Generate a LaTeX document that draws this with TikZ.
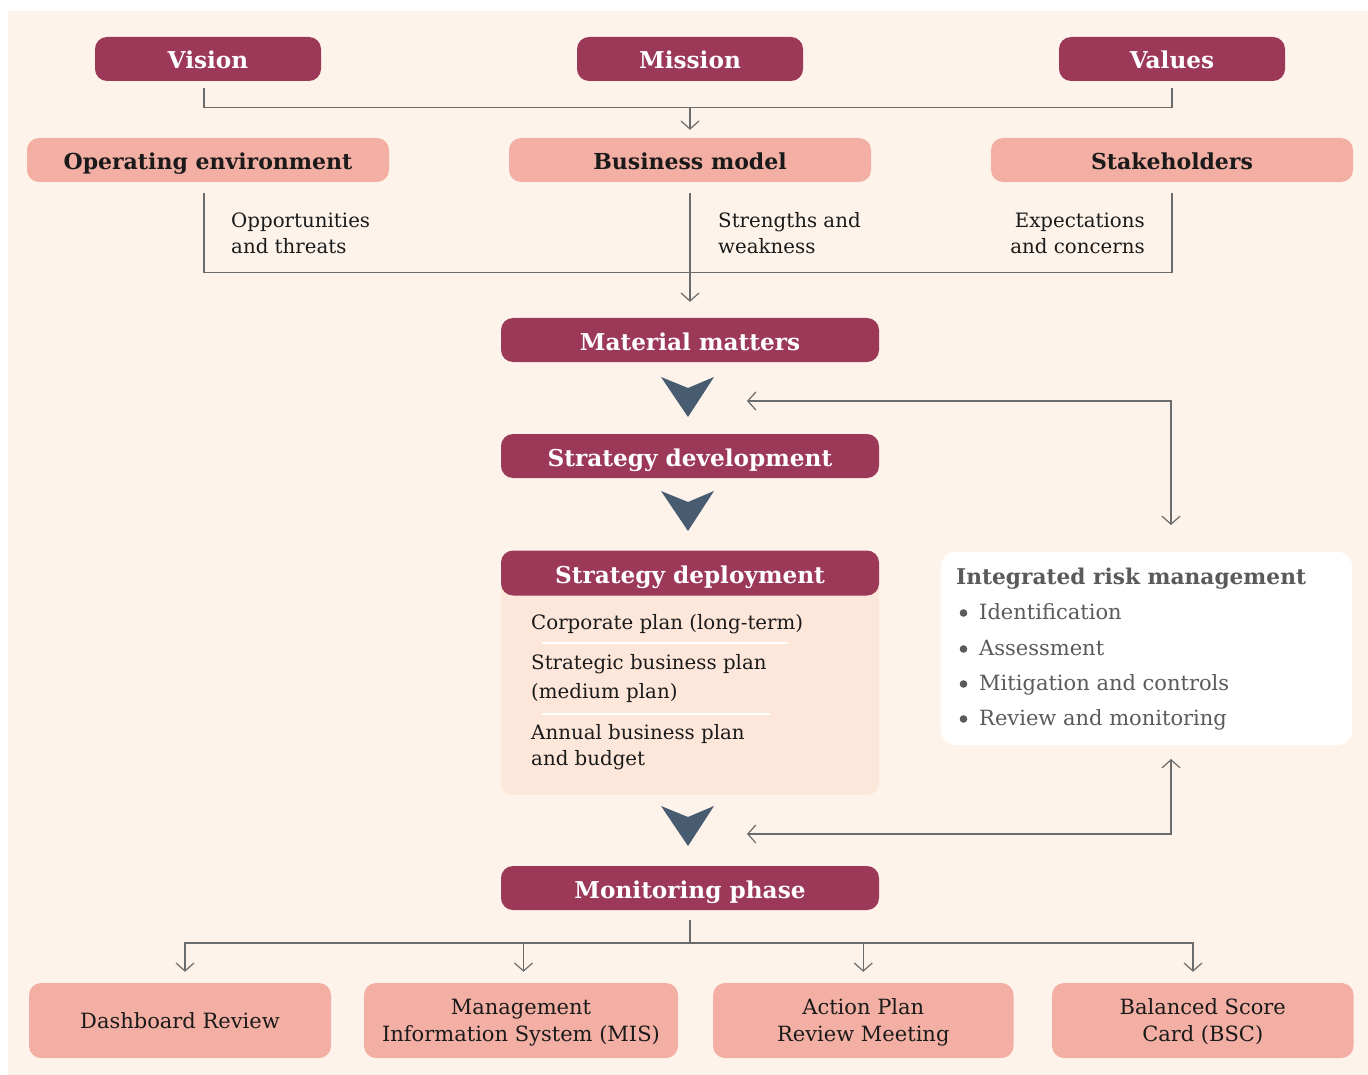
\documentclass[tikz,border=0pt]{standalone}
\usepackage{fontspec}
\setmainfont{DejaVu Serif}
\usetikzlibrary{arrows.meta}
\definecolor{plum}{HTML}{9C3858}
\definecolor{salmon}{HTML}{F3AFA3}
\definecolor{cream}{HTML}{FDF3EB}
\definecolor{peach}{HTML}{FDE6DA}
\definecolor{slate}{HTML}{475B71}
\definecolor{wire}{HTML}{6B6B6B}
\definecolor{ink}{HTML}{1A1A1A}
\definecolor{riskgray}{HTML}{5A5A5A}
\tikzset{
  headbox/.style={fill=plum, text=white, rounded corners=12pt, inner sep=0pt,
    text height=20pt, text depth=0pt, font=\bfseries\fontsize{23.2}{26}\selectfont},
  topbox/.style={headbox, minimum width=226pt, minimum height=44pt},
  stagebox/.style={headbox, minimum width=378pt, minimum height=44pt},
  inputbox/.style={fill=salmon, text=ink, rounded corners=12pt, inner sep=0pt,
    minimum width=362pt, minimum height=44pt, text height=20pt, text depth=0pt,
    font=\bfseries\fontsize{22}{26}\selectfont},
  toolbox/.style={fill=salmon, text=ink, rounded corners=12pt, inner sep=0pt,
    minimum height=75pt, align=center, text depth=0pt, font=\fontsize{21}{27}\selectfont},
  body/.style={text=ink, align=left, inner sep=0pt, font=\fontsize{19.8}{25.5}\selectfont},
  risktext/.style={text=riskgray, anchor=base west, inner sep=0pt, font=\fontsize{21}{24}\selectfont},
  wireline/.style={draw=wire, line width=1.2pt},
  wirearrow/.style={wireline, -{Straight Barb[length=8pt, width=18pt, line width=1.2pt]}},
  wireboth/.style={wireline, {Straight Barb[length=8pt, width=18pt, line width=1.2pt]}-{Straight Barb[length=8pt, width=18pt, line width=1.2pt]}},
  chevron/.pic={\fill[slate] (-27,-20) -- (0,-9) -- (26,-20) -- (0,20) -- cycle;}
}
\begin{document}
\begin{tikzpicture}[x=1pt, y=-1pt]
% page and backdrop
\useasboundingbox (0,0) rectangle (1368,1075);
\fill[white] (0,0) rectangle (1368,1075);
\fill[cream] (8,11) rectangle (1368,1075);

% guiding statements
\node[topbox] (vision)  at (208,59)  {Vision};
\node[topbox] (mission) at (690,59)  {Mission};
\node[topbox] (values)  at (1172,59) {Values};

% inputs
\node[inputbox] (openv)  at (208,160)  {Operating environment};
\node[inputbox] (bmodel) at (690,160)  {Business model};
\node[inputbox] (stake)  at (1172,160) {Stakeholders};

\coordinate (topjoin) at (690,107);
\draw[wireline] ([xshift=-4pt,yshift=-7pt]vision.south) -- ++(0,19) -| ([yshift=-7pt]values.south);
\draw[wirearrow] (topjoin) -- ([yshift=8pt]bmodel.north);

% inputs feeding material matters
\node[stagebox] (material) at (690,340) {Material matters};
\draw[wireline] ([xshift=-4pt,yshift=-11pt]openv.south) -- ++(0,79) -| ([yshift=-11pt]stake.south);
\draw[wirearrow] ([yshift=-11pt]bmodel.south) -- ([yshift=16pt]material.north);

% the base of a two-line text is its last line
\node[body, anchor=base west] (optext) at (231,253.5) {Opportunities\\and threats};
\node[body, anchor=base west] (swtext) at (718,253.5) {Strengths and\\weakness};
\node[body, anchor=base east, align=right] (ectext) at (1145,253.5) {Expectations\\and concerns};

% strategy stages
\node[stagebox] (stratdev) at (690,456) {Strategy development};
\pic at (688,397) {chevron};
\pic at (688,511) {chevron};

\fill[peach, rounded corners=12pt] (501,551) rectangle (879,795);
\node[stagebox, minimum height=45pt] (deploy) at (690,573) {Strategy deployment};
\node[body, anchor=base west] (corp) at (531,629) {Corporate plan (long-term)};
\draw[white, line width=2pt] (542,643) -- (788,643);
\node[body, anchor=base west, font=\fontsize{19.8}{29}\selectfont] (sbp) at (531,698) {Strategic business plan\\(medium plan)};
\draw[white, line width=2pt] (542,714) -- (770,714);
\node[body, anchor=base west, font=\fontsize{19.8}{26}\selectfont] (abp) at (531,765) {Annual business plan\\and budget};

\pic at (688,826) {chevron};
\node[stagebox] (monitor) at (690,888) {Monitoring phase};

% integrated risk management
\fill[white, rounded corners=14pt] (941,552) rectangle (1352,745);
\node[risktext, font=\bfseries\fontsize{21.7}{24}\selectfont] (risk) at (956,584) {Integrated risk management};
\foreach \y/\t [count=\i] in {619/Identification, 655/Assessment, 690/Mitigation and controls, 725/Review and monitoring}{
  \fill[riskgray] (963.5,\y-6) circle (3.8pt);
  \node[risktext] (risk\i) at (979,\y) {\t};
}

% feedback loops with risk management
\coordinate (fbA) at (747,401);
\coordinate (fbB) at (1171,525);
\coordinate (fbC) at (747,834);
\coordinate (fbD) at (1171,759);
\draw[wireboth] (fbA) -| (fbB);
\draw[wireboth] (fbC) -| (fbD);

% monitoring tools
\node[toolbox, minimum width=302pt]   (dash)   at (180,1020.5)   {Dashboard Review};
\node[toolbox, minimum width=314pt]   (mis)    at (521,1020.5)   {Management\\Information System (MIS)};
\node[toolbox, minimum width=300.5pt] (action) at (863.25,1020.5) {Action Plan\\Review Meeting};
\node[toolbox, minimum width=301.5pt] (bsc)    at (1202.75,1020.5) {Balanced Score\\Card (BSC)};

\coordinate (hb) at (690,943);
\draw[wireline] ([yshift=-10pt]monitor.south) -- (hb);
\draw[wirearrow] (hb) -| ([xshift=5pt,yshift=11pt]dash.north);
\draw[wirearrow] (hb) -| ([xshift=2.5pt,yshift=11pt]mis.north);
\draw[wirearrow] (hb) -| ([yshift=11pt]action.north);
\draw[wirearrow] (hb) -| ([xshift=-9.75pt,yshift=11pt]bsc.north);
\end{tikzpicture}
\end{document}
